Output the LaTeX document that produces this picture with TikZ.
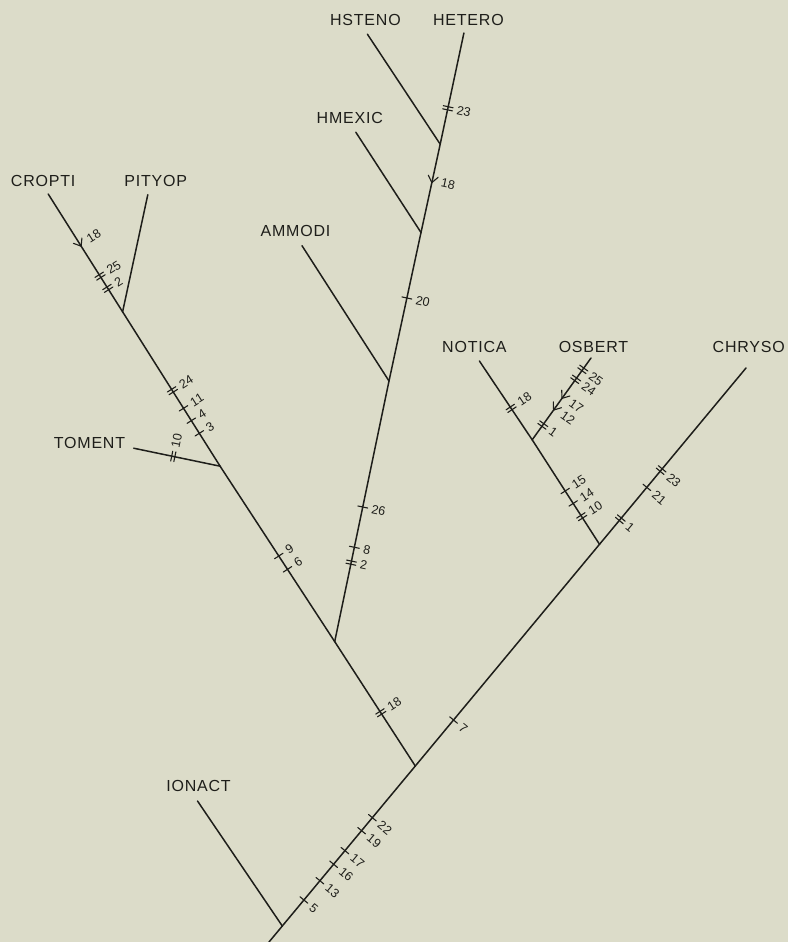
\documentclass[tikz,border=0pt]{standalone}
\usepackage{fontspec}
\setmainfont{Liberation Sans}
\newfontfamily\taxonfont[LetterSpace=5]{Liberation Sans}
\usepackage{tikz}
\usetikzlibrary{decorations.markings}
\definecolor{paper}{HTML}{DCDCC9}
\definecolor{ink}{HTML}{1E1E1A}

\begin{document}
\begin{tikzpicture}[
    x=1pt, y=-1pt,
    branch/.style={ink, line width=1.5pt, line cap=round},
    tickline/.style={ink, line width=1.1pt},
    taxon/.style={ink, inner sep=0pt, font=\taxonfont\fontsize{16}{19}\selectfont},
    num/.style={ink, inner sep=0pt, transform shape, rotate=-90, anchor=west,
        font=\fontsize{12.5}{14}\selectfont},
    % single change
    sgl/.style 2 args={postaction={decorate, decoration={markings,
        mark=at position #1 with {
          \draw[tickline] (0pt,-5pt) -- (0pt,5pt);
          \node[num] at (0pt,-8.5pt) {#2};}}}},
    % double change
    dbl/.style 2 args={postaction={decorate, decoration={markings,
        mark=at position #1 with {
          \draw[tickline] (-1.6pt,-5pt) -- (-1.6pt,5pt) (1.6pt,-5pt) -- (1.6pt,5pt);
          \node[num] at (0pt,-8.5pt) {#2};}}}},
    % reversal
    rev/.style 2 args={postaction={decorate, decoration={markings,
        mark=at position #1 with {
          \draw[tickline] (6.5pt,5pt) -- (0pt,0pt) -- (6.5pt,-5pt);
          \node[num] at (2pt,-8.5pt) {#2};}}}},
]

% paper
\fill[paper] (0,0) rectangle (788,942);
\useasboundingbox (0,0) rectangle (788,942);

% =============================================
% JUNCTIONS AND BRANCH ENDS
% =============================================
\coordinate (root) at (269,942);
\coordinate (jion) at (282.3,926);
\coordinate (jmain) at (415.3,766);
\coordinate (jnot) at (599.5,544.3);
\coordinate (jleft) at (334.7,641.6);
\coordinate (jtom) at (220.1,466.2);
\coordinate (jpit) at (122.6,311.8);
\coordinate (jamm) at (389,381);
\coordinate (jhme) at (421,232.5);
\coordinate (jhst) at (440.2,144.2);
\coordinate (josb) at (532.2,439.8);

\coordinate (eion) at (197.5,801);
\coordinate (echr) at (746,368);
\coordinate (ecro) at (48.2,194);
\coordinate (epit) at (147.8,194.7);
\coordinate (etom) at (133.7,448.2);
\coordinate (eamm) at (302,245.7);
\coordinate (ehme) at (355.8,132.2);
\coordinate (ehst) at (367.4,34.2);
\coordinate (ehet) at (463.9,33);
\coordinate (enot) at (479.4,361);
\coordinate (eosb) at (591,358);

% =============================================
% TAXA
% =============================================
\node[taxon] (cropti) at (43.2,181.4) {CROPTI};
\node[taxon] (pityop) at (155.8,181.4) {PITYOP};
\node[taxon] (toment) at (89.5,443.4) {TOMENT};
\node[taxon] (ammodi) at (295.5,230.7) {AMMODI};
\node[taxon] (hmexic) at (349.8,117.8) {HMEXIC};
\node[taxon] (hsteno) at (365.4,20.4) {HSTENO};
\node[taxon] (hetero) at (468.4,20.4) {HETERO};
\node[taxon] (notica) at (474.4,346.6) {NOTICA};
\node[taxon] (osbert) at (593.5,346.6) {OSBERT};
\node[taxon] (chryso) at (748.8,347.3) {CHRYSO};
\node[taxon] (ionact) at (198.5,785.8) {IONACT};

% =============================================
% TRUNK
% =============================================
\draw[branch] (root) -- (jion);
\draw[branch] (jion) -- (eion);
\draw[branch, sgl={0.1625}{5}, sgl={0.283}{13}, sgl={0.386}{16},
    sgl={0.471}{17}, sgl={0.596}{19}, sgl={0.677}{22}] (jion) -- (jmain);
\draw[branch, sgl={0.2075}{7}] (jmain) -- (jnot);
\draw[branch, dbl={0.142}{1}, sgl={0.323}{21}, dbl={0.421}{23}] (jnot) -- (echr);

% =============================================
% LEFT CLADE
% =============================================
\draw[branch, dbl={0.428}{18}] (jmain) -- (jleft);
\draw[branch, sgl={0.412}{6}, sgl={0.488}{9}] (jleft) -- (jtom);
\draw[branch, dbl={0.542}{10}] (jtom) -- (etom);
\draw[branch, sgl={0.213}{3}, sgl={0.295}{4}, sgl={0.375}{11},
    dbl={0.489}{24}] (jtom) -- (jpit);
\draw[branch, dbl={0.199}{2}, dbl={0.303}{25}, rev={0.557}{18}] (jpit) -- (ecro);
\draw[branch] (jpit) -- (epit);

% =============================================
% HETERO CLADE
% =============================================
\draw[branch, dbl={0.303}{2}, sgl={0.362}{8}, sgl={0.5165}{26}] (jleft) -- (jamm);
\draw[branch] (jamm) -- (eamm);
\draw[branch, sgl={0.559}{20}] (jamm) -- (jhme);
\draw[branch] (jhme) -- (ehme);
\draw[branch, rev={0.565}{18}] (jhme) -- (jhst);
\draw[branch] (jhst) -- (ehst);
\draw[branch, dbl={0.323}{23}] (jhst) -- (ehet);

% =============================================
% NOTICA CLADE
% =============================================
\draw[branch, dbl={0.264}{10}, sgl={0.391}{14}, sgl={0.51}{15}] (jnot) -- (josb);
\draw[branch, dbl={0.40}{18}] (josb) -- (enot);
\draw[branch, dbl={0.181}{1}, rev={0.364}{12}, rev={0.507}{17},
    dbl={0.74}{24}, dbl={0.862}{25}] (josb) -- (eosb);

\end{tikzpicture}
\end{document}
